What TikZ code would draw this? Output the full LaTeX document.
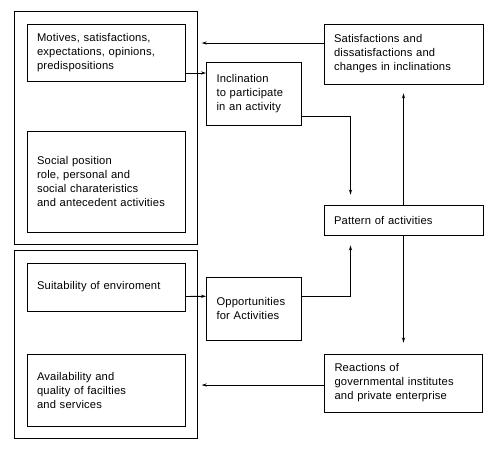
\documentclass[tikz,border=0pt]{standalone}
\usepackage{fontspec}
\setmainfont{Liberation Sans}[WordSpace=1.5, LetterSpace=1.5]
\usetikzlibrary{arrows.meta, fit}

\begin{document}
\begin{tikzpicture}[x=1pt, y=-1pt, >={Stealth[length=5pt, width=3.2pt]},
  font=\fontsize{11.2}{14}\selectfont, line width=0.9pt,
  box/.style={draw, align=left, inner xsep=10pt, inner ysep=0pt},
  frame/.style={draw, inner sep=12pt}]

\useasboundingbox (0,0) rectangle (500,451);

% Individual factors
\node[box, text width=138pt, minimum height=57pt] (motives) at (106,52.5)
  {Motives, satisfactions,\\expectations, opinions,\\predispositions};
\node[box, text width=138pt, minimum height=101pt] (social) at (106,181.5)
  {Social position\\role, personal and\\social charateristics\\and antecedent activities};
\node[frame, fit=(motives)(social)] (person) {};

% Environmental factors
\node[box, text width=138pt, minimum height=48pt] (suit) at (106,287)
  {Suitability of enviroment};
\node[box, text width=138pt, minimum height=72pt] (avail) at (106,390)
  {Availability and\\quality of facilties\\and services};
\node[frame, fit=(suit)(avail)] (envir) {};

% Middle column
\node[box, text width=74.5pt, minimum height=63pt] (inclin) at (253.75,93.5)
  {Inclination\\to participate\\in an activity};
\node[box, text width=74.5pt, minimum height=62.5pt] (opport) at (253.75,308.75)
  {Opportunities\\for Activities};

% Right column
\node[box, text width=139pt, minimum height=60pt] (satisf) at (403.5,54)
  {Satisfactions and\\dissatisfactions and\\changes in inclinations};
\node[box, text width=139pt, minimum height=30pt] (pattern) at (403.5,220)
  {Pattern of activities};
\node[box, text width=138pt, minimum height=58pt] (react) at (403.5,383)
  {Reactions of\\governmental institutes\\and private enterprise};

% Connectors
\coordinate (backTop) at (201.7,43);
\coordinate (backBot) at (201.7,385);
\draw[->] ([yshift=11pt]satisf.west) -- (backTop);
\draw[->] ([yshift=-20.5pt]motives.east) -- ([yshift=20.5pt]inclin.west);
\draw[->] ([yshift=-9.5pt]suit.east) -- ([yshift=12.5pt]opport.west);
\draw[->] ([yshift=-22.5pt]inclin.east) -| ([xshift=-53pt, yshift=10pt]pattern.north);
\draw[->] ([yshift=12.75pt]opport.east) -| ([xshift=-53pt, yshift=-10pt]pattern.south);
\draw[->] (pattern.north) -- ([yshift=-9pt]satisf.south);
\draw[->] (pattern.south) -- ([yshift=11pt]react.north);
\draw[->] ([yshift=-2pt]react.west) -- (backBot);

\end{tikzpicture}
\end{document}
